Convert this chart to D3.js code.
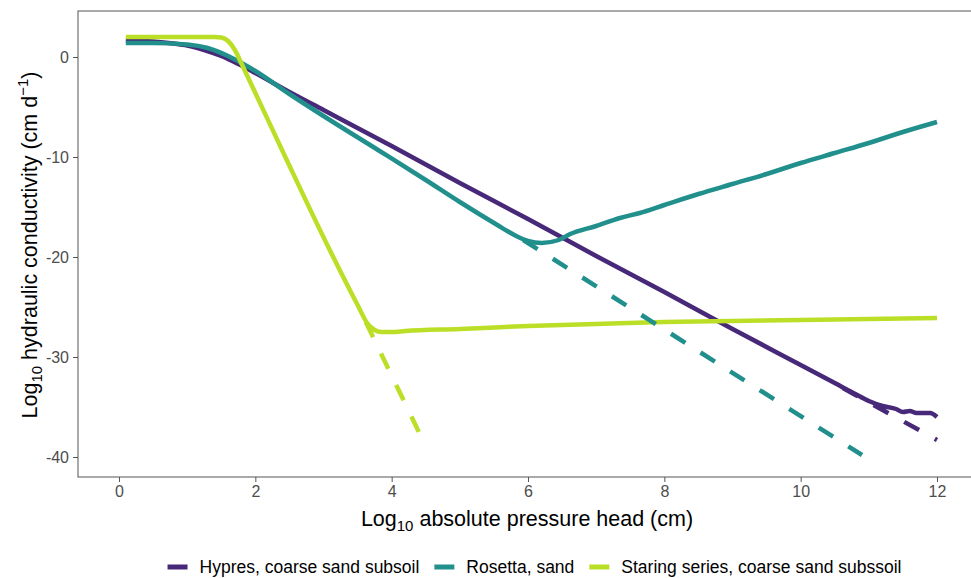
<!DOCTYPE html>
<html>
<head>
<meta charset="utf-8">
<script src="https://cdn.jsdelivr.net/npm/d3@7"></script>
<style>
  body { margin: 0; background: #fff; }
  text { font-family: "Liberation Sans", Arial, sans-serif; }
</style>
</head>
<body>
<div id="chart"></div>
<script>
var width = 971;
var height = 578;

// series values: [log10 |h| (cm), log10 K (cm/d)]
var hypres = [[0.1,1.65],[0.5,1.55],[0.8,1.35],[1.0,1.15],[1.25,0.7],[1.5,0.1],[1.75,-0.7],[2.0,-1.6],
  [2.5,-3.5],[3,-5.3],[4,-8.9],[5,-12.6],[6,-16.2],[7,-19.9],[8,-23.5],[9,-27.2],[10,-30.8],
  [10.5,-32.6],[10.8,-33.7],[11.0,-34.4],[11.2,-34.9],[11.4,-35.2],[11.5,-35.5],[11.6,-35.4],
  [11.7,-35.6],[11.9,-35.6],[12,-36.0]];
var rosetta = [[0.1,1.4],[0.5,1.4],[1.0,1.25],[1.3,0.9],[1.6,0.1],[1.85,-0.8],[2.0,-1.4],[2.5,-3.7],
  [3,-5.9],[3.8,-9.3],[4.5,-12.3],[5,-14.5],[5.55,-16.8],[5.8,-17.8],[6.0,-18.4],[6.2,-18.6],
  [6.45,-18.3],[6.62,-17.7],[7.0,-16.9],[7.35,-16.1],[7.64,-15.6],[8,-14.8],[8.5,-13.7],[9,-12.7],
  [9.5,-11.7],[10,-10.6],[10.5,-9.6],[11,-8.6],[11.5,-7.5],[12,-6.5]];
var staring = [[0.1,2.0],[0.5,2.0],[1.0,2.0],[1.4,2.0],[1.5,1.95],[1.6,1.6],[1.7,0.7],[1.8,-0.7],
  [2.0,-3.6],[2.44,-10],[3.07,-19.0],[3.5,-24.8],[3.64,-26.6],[3.75,-27.3],[3.85,-27.5],[4.0,-27.5],
  [4.2,-27.4],[5,-27.2],[6,-26.9],[7,-26.7],[8,-26.5],[9,-26.4],[10,-26.3],[11,-26.2],[12,-26.1]];

// extrapolated (dashed) parts
var hypresDash = [[10.62,-33.1],[12.0,-38.3]];
var rosettaDash = [[5.93,-18.3],[10.9,-39.8]];
var staringDash = [[3.62,-26.5],[4.42,-37.8]];

var seriesNames = ["Hypres, coarse sand subsoil", "Rosetta, sand", "Staring series, coarse sand subssoil"];
var seriesColors = ["#482878", "#21908C", "#BBDF27"];
var xTicks = [0, 2, 4, 6, 8, 10, 12];
var yTicks = [0, -10, -20, -30, -40];

var panel = {left: 78, top: 11, right: 978, bottom: 477};

var svg = d3.select("#chart")
  .append("svg")
  .attr("width", width)
  .attr("height", height);

var xScale = d3.scaleLinear()
  .domain([0, 12])
  .range([119, 937]);
var yScale = d3.scaleLinear()
  .domain([0, -40])
  .range([57, 457]);

var line = d3.line()
  .x(function(d){ return xScale(d[0]); })
  .y(function(d){ return yScale(d[1]); })
  .curve(d3.curveMonotoneX);

// panel border
svg.append("rect")
  .attr("x", panel.left)
  .attr("y", panel.top)
  .attr("width", panel.right - panel.left)
  .attr("height", panel.bottom - panel.top)
  .attr("fill", "none")
  .attr("stroke", "#555")
  .attr("stroke-width", 1);

// curves
var solids = [hypres, rosetta, staring];
solids.forEach(function(s, i){
  svg.append("path")
    .datum(s)
    .attr("d", line)
    .attr("fill", "none")
    .attr("stroke", seriesColors[i])
    .attr("stroke-width", 4.5)
    .attr("stroke-linejoin", "round");
});

var dashes = [hypresDash, rosettaDash, staringDash];
dashes.forEach(function(s, i){
  svg.append("path")
    .datum(s)
    .attr("d", d3.line().x(function(d){ return xScale(d[0]); }).y(function(d){ return yScale(d[1]); }))
    .attr("fill", "none")
    .attr("stroke", seriesColors[i])
    .attr("stroke-width", 4.5)
    .attr("stroke-dasharray", "17,18");
});

// axes
var xAxis = svg.append("g")
  .attr("transform", "translate(0," + panel.bottom + ")")
  .call(d3.axisBottom(xScale).tickValues(xTicks).tickSize(5).tickPadding(4)
    .tickFormat(function(d){ return String(d); }));
var yAxis = svg.append("g")
  .attr("transform", "translate(" + panel.left + ",0)")
  .call(d3.axisLeft(yScale).tickValues(yTicks).tickSize(5).tickPadding(4)
    .tickFormat(function(d){ return String(d); }));

[xAxis, yAxis].forEach(function(a){
  a.select(".domain").remove();
  a.selectAll(".tick line").attr("stroke", "#555");
  a.selectAll(".tick text")
    .attr("fill", "#4d4d4d")
    .style("font-size", "16px")
    .style("font-family", "'Liberation Sans', Arial, sans-serif");
});

// axis titles
var xLabel = svg.append("text")
  .attr("x", 527)
  .attr("y", 526)
  .attr("text-anchor", "middle")
  .style("font-size", "21.5px")
  .attr("fill", "#000");
xLabel.append("tspan").text("Log");
xLabel.append("tspan").attr("dy", 5).style("font-size", "15px").text("10");
xLabel.append("tspan").attr("dy", -5).text(" absolute pressure head (cm)");

var yLabel = svg.append("text")
  .attr("transform", "translate(37,245) rotate(-90)")
  .attr("text-anchor", "middle")
  .style("font-size", "21.5px")
  .attr("fill", "#000");
yLabel.append("tspan").text("Log");
yLabel.append("tspan").attr("dy", 5).style("font-size", "15px").text("10");
yLabel.append("tspan").attr("dy", -5).text(" hydraulic conductivity (cm d");
yLabel.append("tspan").attr("dy", -9).style("font-size", "15px").text("\u22121");
yLabel.append("tspan").attr("dy", 9).text(")");

// legend
var legend = svg.append("g");
var keyW = 20, keyGap = 12, itemGap = 15, legY = 567;
var items = legend.selectAll("g.item")
  .data(seriesNames)
  .enter()
  .append("g")
  .attr("class", "item");
items.append("line")
  .attr("x1", 0).attr("x2", keyW)
  .attr("y1", 0).attr("y2", 0)
  .attr("stroke", function(d, i){ return seriesColors[i]; })
  .attr("stroke-width", 5);
items.append("text")
  .attr("x", keyW + keyGap)
  .attr("y", 6)
  .style("font-size", "17.5px")
  .attr("fill", "#000")
  .text(function(d){ return d; });
var xpos = 0, offsets = [];
items.each(function(){
  offsets.push(xpos);
  xpos += keyW + keyGap + d3.select(this).select("text").node().getComputedTextLength() + itemGap;
});
var totalW = xpos - itemGap;
var startX = 534.5 - totalW / 2;
items.attr("transform", function(d, i){ return "translate(" + (startX + offsets[i]) + "," + legY + ")"; });
</script>
</body>
</html>
